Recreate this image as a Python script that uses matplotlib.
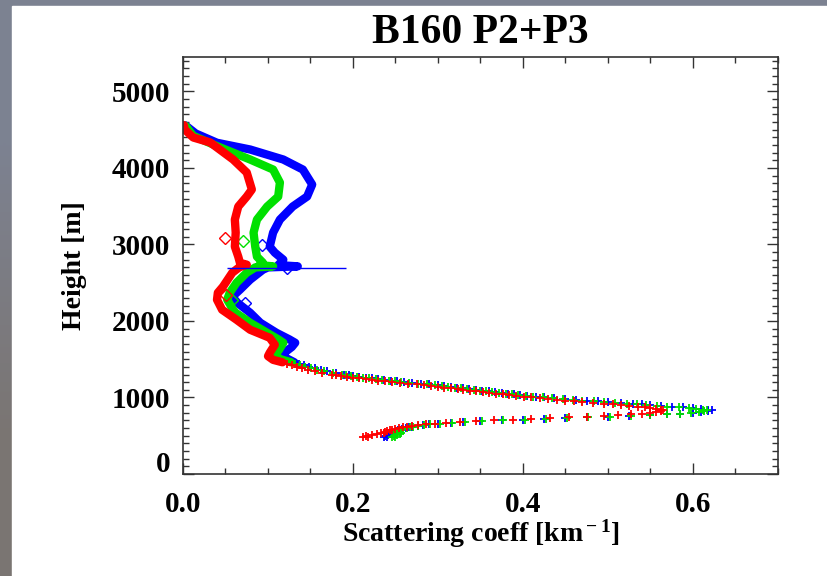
import numpy as np
import matplotlib.pyplot as plt
from matplotlib import transforms

# alturas dos pontos '+' (parte baixa do perfil) [m]
alt_mais = [480, 490, 500, 510, 520, 530, 540, 550, 560, 570,
            580, 590, 600, 610, 620, 630, 640, 650, 660, 670,
            680, 690, 700, 710, 720, 730, 740, 750, 760, 770,
            780, 790, 800, 810, 820, 830,
            840, 850, 860, 870, 880, 890, 900,
            910, 920, 930, 940, 950, 960, 970, 980, 990, 1000,
            1010, 1020, 1030, 1040, 1050, 1060, 1070, 1080, 1090, 1100,
            1110, 1120, 1130, 1140, 1150, 1160, 1170, 1180, 1190, 1200,
            1210, 1220, 1230, 1240, 1250, 1260, 1270, 1280, 1290, 1300,
            1320, 1340, 1360, 1380, 1400, 1420, 1440, 1460]

azul_mais = [0.240, 0.236, 0.238, 0.241, 0.243, 0.245, 0.247, 0.249, 0.251, 0.253,
             0.255, 0.258, 0.262, 0.266, 0.270, 0.276, 0.282, 0.290, 0.300, 0.315,
             0.330, 0.350, 0.375, 0.400, 0.425, 0.450, 0.475, 0.500, 0.525, 0.550,
             0.570, 0.585, 0.600, 0.610, 0.618, 0.622,
             0.618, 0.610, 0.600, 0.588, 0.575, 0.562, 0.550,
             0.540, 0.530, 0.515, 0.500, 0.488, 0.475, 0.462, 0.450, 0.437, 0.425,
             0.415, 0.405, 0.397, 0.390, 0.382, 0.375, 0.367, 0.360, 0.352, 0.345,
             0.337, 0.330, 0.322, 0.315, 0.307, 0.300, 0.290, 0.280, 0.270, 0.260,
             0.252, 0.245, 0.237, 0.230, 0.222, 0.215, 0.207, 0.200, 0.195, 0.190,
             0.180, 0.170, 0.162, 0.155, 0.148, 0.142, 0.136, 0.131]

verde_mais = [0.250, 0.246, 0.248, 0.252, 0.255, 0.257, 0.255, 0.252, 0.252, 0.254,
              0.256, 0.259, 0.263, 0.267, 0.271, 0.277, 0.283, 0.291, 0.302, 0.316,
              0.332, 0.352, 0.377, 0.402, 0.427, 0.452, 0.477, 0.502, 0.527, 0.550,
              0.570, 0.585, 0.598, 0.607, 0.613, 0.616,
              0.612, 0.604, 0.595, 0.583, 0.570, 0.558, 0.545,
              0.534, 0.522, 0.508, 0.495, 0.483, 0.470, 0.459, 0.447, 0.434, 0.423,
              0.412, 0.403, 0.394, 0.387, 0.380, 0.372, 0.364, 0.357, 0.350, 0.342,
              0.334, 0.327, 0.320, 0.312, 0.305, 0.296, 0.287, 0.277, 0.266, 0.257,
              0.250, 0.242, 0.234, 0.227, 0.219, 0.212, 0.205, 0.198, 0.192, 0.187,
              0.176, 0.166, 0.158, 0.151, 0.144, 0.138, 0.132, 0.127]

vermelho_mais = [0.218, 0.212, 0.215, 0.222, 0.228, 0.233, 0.236, 0.238, 0.240, 0.243,
                 0.246, 0.250, 0.254, 0.259, 0.264, 0.270, 0.277, 0.286, 0.297, 0.310,
                 0.326, 0.345, 0.366, 0.388, 0.410, 0.432, 0.454, 0.475, 0.495, 0.512,
                 0.527, 0.540, 0.550, 0.557, 0.562, 0.565,
                 0.562, 0.557, 0.550, 0.543, 0.535, 0.525, 0.515,
                 0.506, 0.495, 0.482, 0.470, 0.460, 0.450, 0.440, 0.430, 0.420, 0.410,
                 0.401, 0.392, 0.384, 0.376, 0.368, 0.360, 0.353, 0.345, 0.338, 0.330,
                 0.323, 0.315, 0.307, 0.300, 0.292, 0.284, 0.275, 0.265, 0.255, 0.246,
                 0.238, 0.230, 0.222, 0.215, 0.207, 0.200, 0.193, 0.186, 0.180, 0.175,
                 0.164, 0.155, 0.147, 0.140, 0.134, 0.128, 0.122, 0.117]

# parte alta do perfil (linha grossa)
azul_alt = [1460, 1500, 1540, 1600, 1660, 1715, 1760, 1845, 1976, 2107, 2238, 2317, 2409, 2540,
            2670, 2700, 2714, 2730, 2801, 2893, 2972, 3155, 3325, 3495, 3626, 3783, 3979, 4110,
            4241, 4329, 4450, 4555]
azul_x = [0.131, 0.124, 0.117, 0.121, 0.128, 0.132, 0.125, 0.110, 0.091, 0.079, 0.064, 0.058,
          0.067, 0.079, 0.094, 0.100, 0.135, 0.112, 0.118, 0.108, 0.102, 0.106, 0.114, 0.129,
          0.146, 0.152, 0.141, 0.118, 0.079, 0.040, 0.015, 0.003]

verde_alt = [1460, 1500, 1550, 1623, 1715, 1760, 1845, 1976, 2107, 2147, 2278, 2369, 2500, 2631,
             2700, 2714, 2730, 2762, 2841, 2972, 3155, 3325, 3495, 3626, 3809, 3979, 4110, 4285,
             4420, 4550]
verde_x = [0.127, 0.115, 0.108, 0.113, 0.118, 0.112, 0.099, 0.079, 0.062, 0.059, 0.052, 0.055,
           0.063, 0.075, 0.085, 0.106, 0.090, 0.094, 0.087, 0.085, 0.083, 0.087, 0.099, 0.112,
           0.114, 0.106, 0.079, 0.040, 0.012, 0.003]

vermelho_alt = [1460, 1492, 1540, 1584, 1689, 1780, 1885, 2016, 2147, 2278, 2369, 2448, 2631, 2700,
                2736, 2760, 2841, 2972, 3155, 3325, 3495, 3626, 3718, 3940, 4110, 4333, 4398, 4503,
                4560]
vermelho_x = [0.117, 0.106, 0.100, 0.102, 0.108, 0.102, 0.079, 0.063, 0.046, 0.040, 0.041, 0.047,
              0.058, 0.066, 0.075, 0.067, 0.065, 0.061, 0.062, 0.061, 0.065, 0.075, 0.081, 0.075,
              0.059, 0.032, 0.012, 0.002, 0.001]

# losangos (medidas pontuais)
azul_diam_x = [0.093, 0.122, 0.073]
azul_diam_alt = [2998, 2697, 2238]
azul_diam_err = [0.0, 0.070, 0.0]
verde_diam_x = [0.071, 0.058]
verde_diam_alt = [3050, 2278]
vermelho_diam_x = [0.049, 0.051]
vermelho_diam_alt = [3089, 2343]

plt.rcParams['mathtext.fontset'] = 'custom'
plt.rcParams['mathtext.rm'] = 'Liberation Serif:bold'
plt.rcParams['mathtext.it'] = 'Liberation Serif:bold'
plt.rcParams['mathtext.bf'] = 'Liberation Serif:bold'
fonte = {'family': 'Liberation Serif', 'weight': 'bold'}

fig = plt.figure(figsize=(8.28, 5.76), dpi=100)

# fundo do slide (cinza) com area branca
fundo = fig.add_axes([0, 0, 1, 1], zorder=-10)
grad = np.array([[[0.49, 0.51, 0.57]], [[0.48, 0.46, 0.45]]])
fundo.imshow(grad, aspect='auto', extent=[0, 1, 0, 1], interpolation='bilinear')
fundo.add_patch(plt.Rectangle((12 / 828, 0), 1, 570 / 576, color='white'))
fundo.set_xlim(0, 1)
fundo.set_ylim(0, 1)
fundo.axis('off')

ax = fig.add_axes([183 / 828, 102 / 576, 595 / 828, 417 / 576])

series = [
    ('#0000ff', azul_mais, azul_alt, azul_x, azul_diam_x, azul_diam_alt),
    ('#00e000', verde_mais, verde_alt, verde_x, verde_diam_x, verde_diam_alt),
    ('#ff0000', vermelho_mais, vermelho_alt, vermelho_x, vermelho_diam_x, vermelho_diam_alt),
]

for cor, x_mais, alt_l, x_l, dx, dalt in series:
    ax.plot(x_l, alt_l, color=cor, lw=6, solid_capstyle='round', solid_joinstyle='round')
    ax.plot(x_mais, alt_mais, ls='none', marker='+', ms=6, mew=1.3, color=cor)
    ax.plot(dx, dalt, ls='none', marker='D', ms=6, mfc='none', mec=cor, mew=1)

ax.errorbar(azul_diam_x, azul_diam_alt, xerr=azul_diam_err, fmt='none', ecolor='#0000ff',
            elinewidth=1, capsize=0)

ax.set_xlim(0, 0.7)
ax.set_ylim(0, 5450)
ax.set_xticks([0.0, 0.2, 0.4, 0.6])
ax.set_xticklabels(['0.0', '0.2', '0.4', '0.6'])
ax.set_xticks(np.arange(0, 0.71, 0.05), minor=True)
ax.set_yticks([0, 1000, 2000, 3000, 4000, 5000])
ax.set_yticks(np.arange(0, 5451, 100), minor=True)
ax.tick_params(which='both', direction='in', top=True, right=True, width=1, color='#333333')
ax.tick_params(which='major', length=8)
ax.tick_params(which='minor', length=4)
ax.tick_params(axis='y', pad=9)
ax.tick_params(axis='x', pad=12)
for lbl in ax.get_xticklabels() + ax.get_yticklabels():
    lbl.set_fontfamily('Liberation Serif')
    lbl.set_fontweight('bold')
    lbl.set_fontsize(21)

# o rotulo "0" do eixo y fica um pouco acima do eixo
lbl0 = ax.get_yticklabels()[0]
lbl0.set_transform(lbl0.get_transform() + transforms.ScaledTranslation(0, 12 / 100, fig.dpi_scale_trans))

for s in ax.spines.values():
    s.set_linewidth(1.2)
    s.set_color('#333333')

ax.set_ylabel('Height [m]', fontsize=20, labelpad=18, **fonte)
ax.set_xlabel(r'Scattering coeff [km$^{\bf -1}$]', fontsize=20, labelpad=0, **fonte)
ax.set_title('B160 P2+P3', fontsize=30, pad=10, **fonte)

plt.savefig('out.png', dpi=100)
plt.close()
